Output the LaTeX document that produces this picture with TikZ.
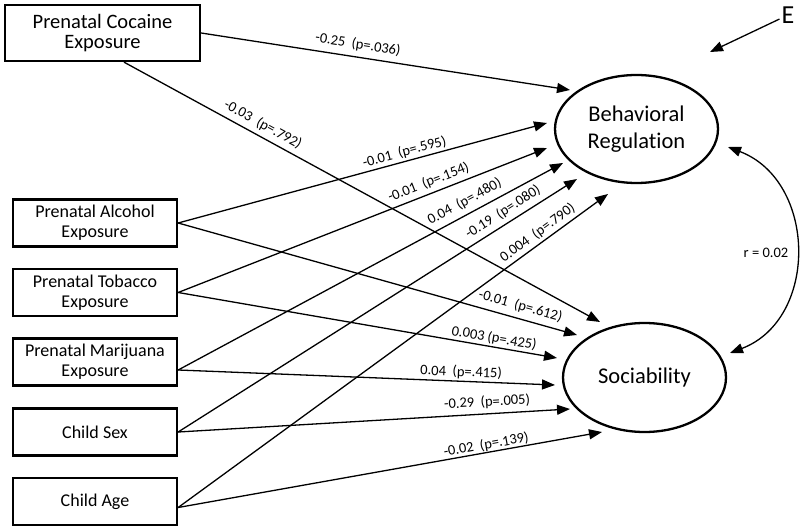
\documentclass[tikz,border=0pt]{standalone}
\usepackage{fontspec}
\setmainfont{Carlito}[Ligatures={NoCommon}]
\usetikzlibrary{arrows.meta,shapes.geometric}
\newcommand{\gp}{\hspace{0.45em}}
\begin{document}
\begin{tikzpicture}[x=1pt,y=-1pt,
  box/.style={draw,line width=2.3pt,align=center,inner sep=0pt,minimum width=164pt,minimum height=47pt,font=\fontsize{18}{20}\selectfont},
  bigbox/.style={box,minimum width=195pt,minimum height=56pt,font=\fontsize{20.5}{20.5}\selectfont},
  lat/.style={draw,ellipse,line width=2.3pt,inner sep=0pt,minimum width=163pt,minimum height=108pt,align=center,font=\fontsize{22.5}{27}\selectfont},
  conn/.style={line width=1.3pt,-{Triangle[length=13pt,width=10pt]}},
  dbl/.style={line width=1.3pt,{Triangle[length=13pt,width=10pt]}-{Triangle[length=13pt,width=10pt]}},
  lab/.style={sloped,font=\fontsize{14.5}{16}\selectfont,inner sep=0pt}
]
\useasboundingbox (0,0) rectangle (800,529);

% exogenous variables
\node[bigbox] (coc) at (102.5,33) {Prenatal Cocaine\\Exposure};
\node[box] (alc) at (95,223) {Prenatal Alcohol\\Exposure};
\node[box] (tob) at (95,292.5) {Prenatal Tobacco\\Exposure};
\node[box] (mj) at (95,362) {Prenatal Marijuana\\Exposure};
\node[box] (sex) at (95,432) {Child Sex};
\node[box] (age) at (95,501.5) {Child Age};

% latent outcomes
\node[lat] (br) at (636.5,129) {Behavioral\\Regulation};
\node[lat,minimum height=109pt] (soc) at (644.5,377.5) {Sociability};
\node[inner sep=2pt,font=\fontsize{26}{26}\selectfont] (E) at (788,15) {E};

% arrow tips
\coordinate (t1) at (570,90);
\coordinate (t2) at (600,322);
\coordinate (t3) at (547,123);
\coordinate (t4) at (547,148);
\coordinate (t5) at (563,163);
\coordinate (t6) at (577,179);
\coordinate (t7) at (608,194);
\coordinate (t8) at (577,335);
\coordinate (t9) at (557,358);
\coordinate (t10) at (555,385);
\coordinate (t11) at (570,409);
\coordinate (t12) at (602,432);
\coordinate (te) at (710,52);
\coordinate (c1) at (728,147);
\coordinate (c2) at (730,353);

% paths to Behavioral Regulation
\draw[conn] (coc.east) -- node[lab,pos=0.42,above=5.5pt] {-0.25\gp(p=.036)} (t1);
\draw[conn] (alc.east) -- node[lab,pos=0.62,above=2pt] {-0.01\gp(p=.595)} (t3);
\draw[conn] (tob.east) -- node[lab,pos=0.69,above=4.2pt] {-0.01\gp(p=.154)} (t4);
\draw[conn] ([yshift=-8pt]mj.east) -- node[lab,pos=0.76,above=5.5pt] {0.04\gp(p=.480)} (t5);
\draw[conn] (sex.east) -- node[lab,pos=0.83,above=4.6pt] {-0.19\gp(p=.080)} (t6);
\draw[conn] ([yshift=-6pt]age.east) -- node[lab,pos=0.85,above=3pt] {0.004\gp(p=.790)} (t7);

% paths to Sociability
\draw[conn] ([xshift=21.5pt]coc.south) -- node[lab,pos=0.28,above=4.7pt] {-0.03\gp(p=.792)} (t2);
\draw[conn] (alc.east) -- node[lab,pos=0.85,above=5.2pt] {-0.01\gp(p=.612)} (t8);
\draw[conn] (tob.east) -- node[lab,pos=0.83,above=1.6pt] {0.003 (p=.425)} (t9);
\draw[conn] ([yshift=-8pt]mj.east) -- node[lab,pos=0.75,above=2pt] {0.04\gp(p=.415)} (t10);
\draw[conn] (sex.east) -- node[lab,pos=0.79,above=4.5pt] {-0.29\gp(p=.005)} (t11);
\draw[conn] ([yshift=-6pt]age.east) -- node[lab,pos=0.73,above=0.5pt] {-0.02\gp(p=.139)} (t12);

% error and correlation
\draw[conn] (E) -- (te);
\draw[dbl] (c1) .. controls (817,181) and (819,319) .. (c2);
\node[font=\fontsize{14.5}{16}\selectfont,inner sep=0pt] (r) at (766,253) {r = 0.02};
\end{tikzpicture}
\end{document}
